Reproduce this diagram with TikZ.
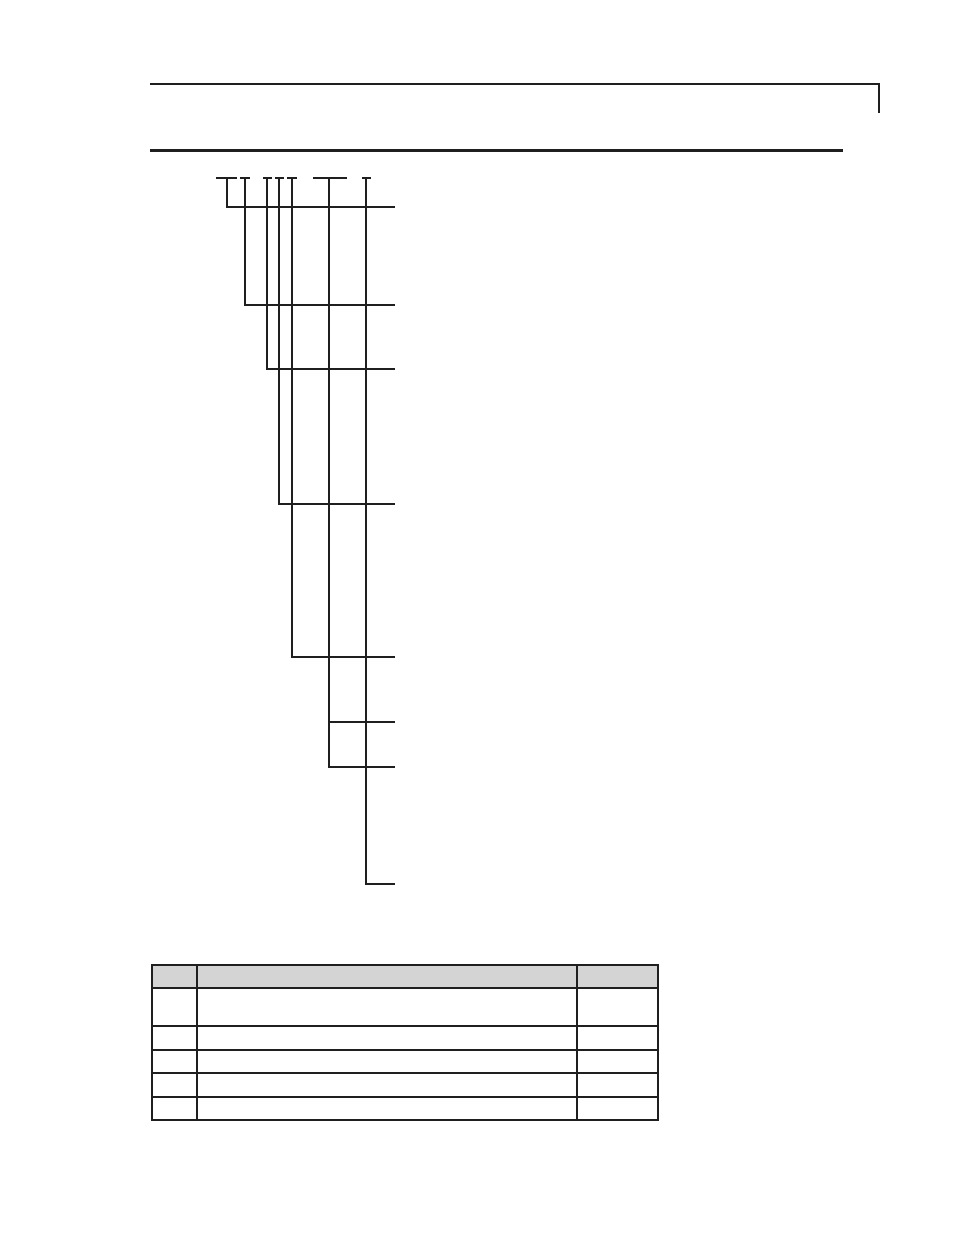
\documentclass[tikz,border=0pt]{standalone}
\begin{document}
\begin{tikzpicture}[x=1pt,y=-1pt,
  thin line/.style={line width=1.1pt,draw=black!88},
  tree/.style={line width=1.1pt,draw=black!88},
  grid line/.style={line width=1.2pt,draw=black!88}]
\useasboundingbox (0,0) rectangle (954,1235);
% header
\draw[thin line] (150,84) -- (879,84) -- (879,113);
\draw[line width=3pt,draw=black!88] (150,150) -- (843,150);
% underscores
\foreach \a/\b in {216/237,240/250,263/272,275/284,287/297,313/347,362/371}
  \draw[tree] (\a,178) -- (\b,178);
% tree branches
\coordinate (e) at (395,0);
\draw[tree] (227,178) |- (395,207);
\draw[tree] (245,178) |- (395,305);
\draw[tree] (267,178) |- (395,369);
\draw[tree] (279,178) |- (395,504);
\draw[tree] (292,178) |- (395,657);
\draw[tree] (329,178) |- (395,767);
\draw[tree] (329,722) -- (395,722);
\draw[tree] (366,178) |- (395,884);
% table
\fill[black!17] (152,965) rectangle (658,988);
\draw[grid line] (152,965) rectangle (658,1120);
\foreach \y in {988,1026,1050,1073,1097}
  \draw[grid line] (152,\y) -- (658,\y);
\draw[grid line] (197,965) -- (197,1120);
\draw[grid line] (577,965) -- (577,1120);
\end{tikzpicture}
\end{document}
